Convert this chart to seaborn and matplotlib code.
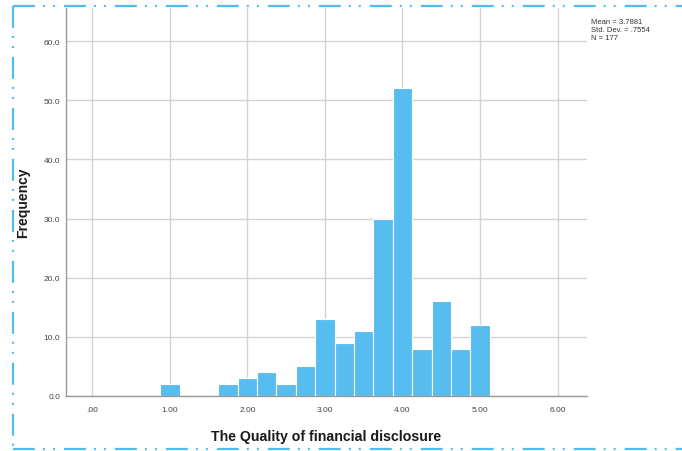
import numpy as np
import pandas as pd
import seaborn as sns
import matplotlib
matplotlib.use("Agg")
import matplotlib.pyplot as plt
from matplotlib.lines import Line2D

# Data
bin_centers = [1.00, 1.75, 2.00, 2.25, 2.50, 2.75, 3.00, 3.25, 3.50, 3.75, 4.00, 4.25, 4.50, 4.75, 5.00]
counts = [2, 2, 3, 4, 2, 5, 13, 9, 11, 30, 52, 8, 16, 8, 12]
x_ticks = [0, 1, 2, 3, 4, 5, 6]
x_tick_labels = [".00", "1.00", "2.00", "3.00", "4.00", "5.00", "6.00"]
y_ticks = [0, 10, 20, 30, 40, 50, 60]
y_tick_labels = ["0.0", "10.0", "20.0", "30.0", "40.0", "50.0", "60.0"]
stats_lines = ["Mean = 3.7881", "Std. Dev. = .7554", "N = 177"]
x_label = "The Quality of financial disclosure"
y_label = "Frequency"

sns.set_theme(style="whitegrid")
plt.rcParams['font.family'] = ['Liberation Sans', 'DejaVu Sans']
plt.rcParams['lines.scale_dashes'] = False

df = pd.DataFrame({"value": bin_centers, "count": counts})

W, H = 682, 452
fig = plt.figure(figsize=(W / 100, H / 100), dpi=100)
ax = fig.add_axes([66 / W, 1 - 397 / H, (587 - 66) / W, (397 - 9) / H])

sns.histplot(data=df, x="value", weights="count", binwidth=0.25, binrange=(0.875, 5.125),
             ax=ax, color="#57bdf1", alpha=1.0, edgecolor="white", linewidth=0.8)

ax.set_xlim(-0.34, 6.38)
ax.set_ylim(0, 65.6)
ax.set_xticks(x_ticks)
ax.set_xticklabels(x_tick_labels)
ax.set_yticks(y_ticks)
ax.set_yticklabels(y_tick_labels)
ax.tick_params(axis="both", length=0, labelsize=6, colors="#444444")
ax.tick_params(axis="x", pad=7)
ax.tick_params(axis="y", pad=4)
ax.grid(True, color="#d4d4d4", linewidth=1.0)
ax.set_axisbelow(True)
for side in ["top", "right"]:
    ax.spines[side].set_visible(False)
for side in ["left", "bottom"]:
    ax.spines[side].set_color("#9a9a9a")
    ax.spines[side].set_linewidth(1.0)

ax.set_xlabel(x_label, fontsize=10.2, fontweight="bold", color="#1a1a1a", labelpad=12)
ax.set_ylabel(y_label, fontsize=10, fontweight="bold", color="#1a1a1a", labelpad=10)

fig.text(591 / W, 1 - 19 / H, "\n".join(stats_lines), fontsize=5.5,
         color="#333333", va="top", ha="left", linespacing=1.2)

# dash-dot-dot border (top, left, bottom)
pattern = (0, (15.8, 5.8, 1.4, 5.8, 1.4, 6.5))
bc = "#4fbdf2"
lx, ty, by = 12.5 / W, 1 - 7 / H, 1 - 449.5 / H
for xs, ys in [([lx, 1.0], [ty, ty]), ([lx, lx], [ty, by]), ([lx, 1.0], [by, by])]:
    fig.add_artist(Line2D(xs, ys, transform=fig.transFigure, color=bc,
                          linewidth=1.6, linestyle=pattern, dash_capstyle="butt"))

fig.savefig("out.png", dpi=100, facecolor="white")
